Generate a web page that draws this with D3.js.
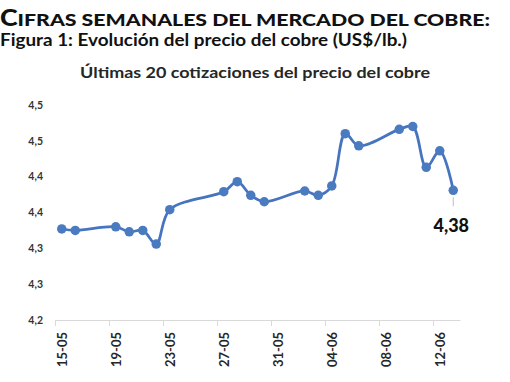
<!DOCTYPE html>
<html>
<head>
<meta http-equiv="content-type" content="text/html; charset=UTF8">
<script src="https://cdn.jsdelivr.net/npm/d3@7/dist/d3.min.js"></script>
<style>
body { margin: 0; background: #fff; }
svg { display: block; }
text { font-family: Lato, "Open Sans", sans-serif; }
</style>
</head>
<body>
<svg class="chart" width="510" height="382"></svg>
</body>
<script>
// ultimas cotizaciones (dd-mm, US$/lb)
var dates = ["15-05", "16-05", "19-05", "20-05", "21-05", "22-05", "23-05",
	"27-05", "28-05", "29-05", "30-05",
	"02-06", "03-06", "04-06", "05-06", "06-06",
	"09-06", "10-06", "11-06", "12-06", "13-06"];
var prices = [4.327, 4.325, 4.330, 4.323, 4.325, 4.306, 4.354,
	4.379, 4.393, 4.374, 4.365,
	4.380, 4.374, 4.387, 4.460, 4.443,
	4.466, 4.470, 4.413, 4.436, 4.381];

var xTickDates = ["15-05", "19-05", "23-05", "27-05", "31-05", "04-06", "08-06", "12-06"];
var yTicks = [4.20, 4.25, 4.30, 4.35, 4.40, 4.45, 4.50];
var yTickLabels = ["4,2", "4,3", "4,3", "4,4", "4,4", "4,5", "4,5"];

var parse = d3.timeParse("%d-%m-%Y");
function toDate(s) { return parse(s + "-2024"); }
var halfDay = 12 * 3600 * 1000;

var data = dates.map(function(d, i) { return {date: toDate(d), value: prices[i]}; });

var svg = d3.select(".chart");

var x = d3.scaleTime()
	.domain([toDate("15-05"), toDate("14-06")])
	.range([55, 460]);
var y = d3.scaleLinear()
	.domain([4.2, 4.5])
	.range([320, 105]);

var comma = d3.formatLocale({decimal: ",", thousands: ".", grouping: [3], currency: ["", "$"]});

// titles
var t1 = svg.append("text")
	.attr("x", 0).attr("y", 26)
	.attr("textLength", 490).attr("lengthAdjust", "spacingAndGlyphs")
	.style("font-weight", 900).style("fill", "#111");
t1.append("tspan").style("font-size", "22px").text("C");
t1.append("tspan").style("font-size", "17.5px").text("IFRAS SEMANALES DEL MERCADO DEL COBRE:");

svg.append("text")
	.attr("x", 0).attr("y", 46)
	.attr("textLength", 407).attr("lengthAdjust", "spacingAndGlyphs")
	.style("font-size", "16.5px").style("font-weight", 700).style("fill", "#111")
	.text("Figura 1: Evolución del precio del cobre (US$/lb.)");

svg.append("text")
	.attr("x", 80).attr("y", 78)
	.attr("textLength", 350).attr("lengthAdjust", "spacingAndGlyphs")
	.style("font-size", "15px").style("font-weight", 700).style("fill", "#262626")
	.text("Últimas 20 cotizaciones del precio del cobre");

// y labels (no axis line)
svg.append("g").selectAll("text")
	.data(yTicks)
	.enter()
	.append("text")
	.attr("x", 43)
	.attr("y", function(d) { return y(d); })
	.attr("dy", "0.35em")
	.attr("text-anchor", "end")
	.style("font-size", "10.5px").style("font-weight", 700).style("fill", "#333")
	.text(function(d, i) { return yTickLabels[i]; });

// x axis
var xAxis = svg.append("g")
	.attr("transform", "translate(0," + y(4.2) + ")")
	.call(d3.axisBottom(x)
		.tickValues(xTickDates.map(toDate))
		.tickSize(6)
		.tickSizeOuter(0)
		.tickFormat(function(d) { return d3.timeFormat("%d-%m")(d); }));
xAxis.select(".domain").attr("stroke", "#d9d9d9");
xAxis.selectAll(".tick line").attr("stroke", "#d9d9d9");
var dx = x(new Date(toDate("15-05").getTime() + halfDay)) - x(toDate("15-05"));
xAxis.selectAll(".tick text")
	.attr("transform", "translate(" + dx + ",0) rotate(-90)")
	.attr("x", -12).attr("y", 0).attr("dy", "0.35em")
	.attr("text-anchor", "end")
	.style("font-family", "Lato, sans-serif")
	.style("font-size", "13px").style("font-weight", 700).style("fill", "#262626");

// line
var line = d3.line()
	.x(function(d) { return x(new Date(d.date.getTime() + halfDay)); })
	.y(function(d) { return y(d.value); })
	.curve(d3.curveCatmullRom.alpha(0.5));

svg.append("path")
	.datum(data)
	.attr("d", line)
	.attr("fill", "none")
	.attr("stroke", "#4674bf")
	.attr("stroke-width", 2.75);

svg.append("g").selectAll("circle")
	.data(data)
	.enter()
	.append("circle")
	.attr("cx", function(d) { return x(new Date(d.date.getTime() + halfDay)); })
	.attr("cy", function(d) { return y(d.value); })
	.attr("r", 4.75)
	.attr("fill", "#4a7bc0");

// data label on the last quote
var last = data[data.length - 1];
var lx = x(new Date(last.date.getTime() + halfDay)),
	ly = y(last.value);
svg.append("line")
	.attr("x1", lx).attr("x2", lx)
	.attr("y1", ly + 7).attr("y2", ly + 16)
	.attr("stroke", "#bfbfbf").attr("stroke-width", 1);
svg.append("text")
	.attr("x", lx - 2).attr("y", ly + 42)
	.attr("text-anchor", "middle")
	.style("font-size", "18px").style("font-weight", 900).style("fill", "#111")
	.text(comma.format(".2f")(last.value));
</script>
</html>
